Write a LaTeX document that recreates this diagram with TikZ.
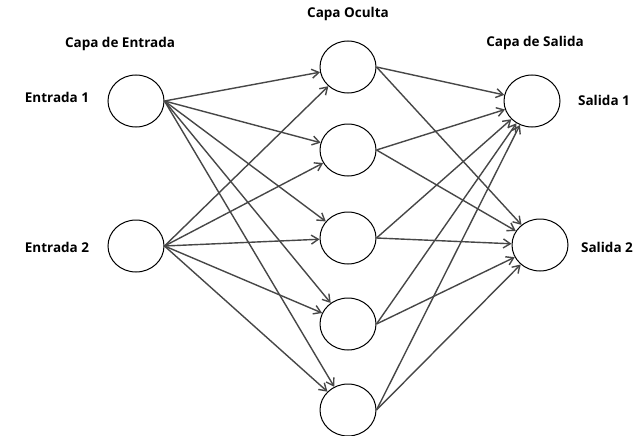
\documentclass[tikz,border=0pt]{standalone}
\usepackage{fontspec}
\setmainfont{Open Sans}
\usetikzlibrary{shapes.geometric,arrows.meta}
\begin{document}
\begin{tikzpicture}[x=1pt,y=-1pt,
  neuron/.style={ellipse,draw=black,line width=1pt,minimum width=56pt,minimum height=52pt,inner sep=0pt,fill=white},
  lbl/.style={font=\bfseries\fontsize{13.5}{15}\selectfont,inner sep=0pt},
  conn/.style={draw=black!72,line width=1.4pt,-{Straight Barb[length=7pt,width=9pt]}}]
\useasboundingbox[fill=white] (0,0) rectangle (634,436);
\node[neuron] (i1) at (136,101) {};
\node[neuron] (i2) at (136,246) {};
\node[neuron] (h1) at (348,67) {};
\node[neuron] (h2) at (348,150) {};
\node[neuron] (h3) at (348,238) {};
\node[neuron] (h4) at (348,324) {};
\node[neuron] (h5) at (348,410) {};
\node[neuron] (o1) at (532,101) {};
\node[neuron] (o2) at (540,245) {};
\node[lbl] (t1) at (120,44) {Capa de Entrada};
\node[lbl] (t2) at (348,14) {Capa Oculta};
\node[lbl] (t3) at (535,43) {Capa de Salida};
\node[lbl] (e1) at (57,97) {Entrada 1};
\node[lbl] (e2) at (57,247) {Entrada 2};
\node[lbl] (s1) at (604,100) {Salida 1};
\node[lbl] (s2) at (607,247) {Salida 2};
\foreach \i in {i1,i2}
  \foreach \h in {h1,h2,h3,h4,h5}
    \draw[conn] (\i.east) -- (\h);
\foreach \h in {h1,h2,h3,h4,h5}
  \foreach \o in {o1,o2}
    \draw[conn] (\h.east) -- (\o);
\end{tikzpicture}
\end{document}
